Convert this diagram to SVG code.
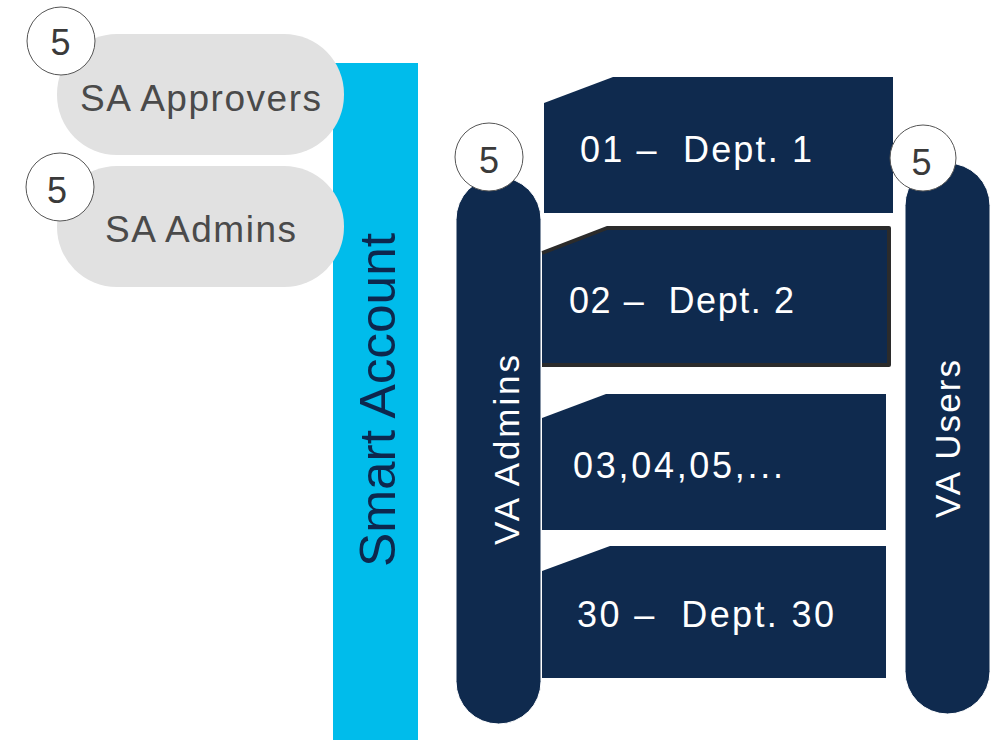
<svg xmlns="http://www.w3.org/2000/svg" width="998" height="740" viewBox="0 0 998 740">
<style>
text{font-family:"Liberation Sans",Arial,sans-serif}
.navy{fill:#0F2A4E}
.pill{fill:#0F2A4E;stroke:#ffffff;stroke-width:1}
.gray{fill:#E1E1E1}
.gtxt{fill:#4A4A4A;font-size:37px}
.wtxt{fill:#ffffff;font-size:36px}
.vtxt{fill:#ffffff;font-size:35px;text-anchor:middle}
.badge circle{fill:#ffffff;stroke:#555555;stroke-width:1}
.badge text{fill:#3A3A3A;font-size:36px;text-anchor:middle}
</style>
<rect width="998" height="740" fill="#ffffff"/>
<g id="smart-account">
<rect x="333" y="63" width="85" height="677" fill="#00BCEB"/>
<text transform="translate(395,400) rotate(-90)" text-anchor="middle" font-size="50" fill="#0D274D" textLength="334" lengthAdjust="spacingAndGlyphs">Smart Account</text>
</g>
<g id="sa-approvers">
<rect class="gray" x="57" y="34" width="287" height="121" rx="60" ry="60"/>
<text class="gtxt" x="80" y="111" textLength="241">SA Approvers</text>
</g>
<g id="sa-admins">
<rect class="gray" x="57" y="166" width="287" height="121" rx="60" ry="60"/>
<text class="gtxt" x="105" y="242" textLength="191">SA Admins</text>
</g>
<g id="dept-1">
<polygon class="navy" points="544,103 613,77 893,77 893,213 544,213"/>
<text class="wtxt" x="580" y="162" textLength="232" xml:space="preserve">01 –  Dept. 1</text>
</g>
<g id="dept-2">
<polygon class="navy" points="542,253 607,228 889,228 889,365 542,365"/>
<polyline points="542,253 607,228 889,228 889,365 542,365" fill="none" stroke="#2B2B2B" stroke-width="4" stroke-linejoin="round"/>
<text class="wtxt" x="569" y="313" textLength="225" xml:space="preserve">02 –  Dept. 2</text>
</g>
<g id="dept-3">
<polygon class="navy" points="542,418 606,394 886,394 886,530 542,530"/>
<text class="wtxt" x="573" y="478" textLength="210">03,04,05,...</text>
</g>
<g id="dept-30">
<polygon class="navy" points="542,571 610,546 886,546 886,678 542,678"/>
<text class="wtxt" x="577" y="627" textLength="257" xml:space="preserve">30 –  Dept. 30</text>
</g>
<g id="va-admins">
<rect class="pill" x="456" y="177" width="85" height="547" rx="42.5" ry="42.5"/>
<text class="vtxt" transform="translate(519,450) rotate(-90)" textLength="190">VA Admins</text>
</g>
<g id="va-users">
<rect class="pill" x="905" y="163" width="85" height="551" rx="42.5" ry="42.5"/>
<text class="vtxt" transform="translate(960,439) rotate(-90)" font-size="34" textLength="158">VA Users</text>
</g>
<g id="badge-sa-approvers" class="badge">
<circle cx="61" cy="41" r="34"/>
<text x="60.5" y="55">5</text>
</g>
<g id="badge-sa-admins" class="badge">
<circle cx="60" cy="187" r="34"/>
<text x="57" y="203">5</text>
</g>
<g id="badge-va-admins" class="badge">
<circle cx="489" cy="157" r="34"/>
<text x="489" y="173">5</text>
</g>
<g id="badge-va-users" class="badge">
<circle cx="923" cy="158" r="33"/>
<text x="921.5" y="175">5</text>
</g>
<g id="connectors"/>
</svg>
